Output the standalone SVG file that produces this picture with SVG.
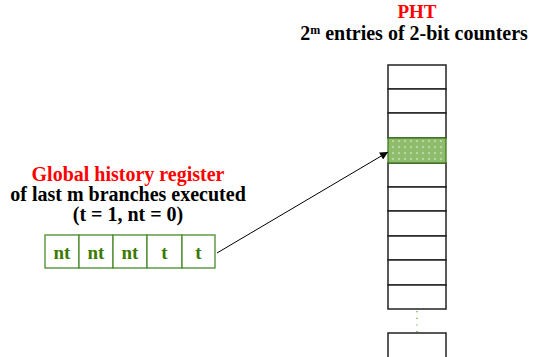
<svg xmlns="http://www.w3.org/2000/svg" width="535" height="357" viewBox="0 0 535 357">
<style>
text{font-family:"Liberation Serif","Times New Roman",serif;font-weight:bold;}
.red{fill:#ff0000;}
.blk{fill:#000;}
.reg{fill:#ffffff;stroke:#4a8a2a;stroke-width:1.3;}
.rt{fill:#3a7a00;font-size:19px;text-anchor:middle;}
.cell{fill:#ffffff;stroke:#222;stroke-width:1.5;}
.hit{fill:url(#dots);stroke:#3f7a1f;stroke-width:1.3;}
.conn{stroke:#000;stroke-width:1;fill:none;}
</style>
<defs>
<pattern id="dots" width="6" height="6" patternUnits="userSpaceOnUse">
<rect width="6" height="6" fill="#8fbc6c"/>
<circle cx="3" cy="3" r="1.2" fill="#b8d6a0"/>
</pattern>
<marker id="ah" viewBox="0 0 10 10" refX="10" refY="5" markerWidth="10" markerHeight="8" markerUnits="userSpaceOnUse" orient="auto">
<path d="M0,0 L10,5 L0,10 z" fill="#000"/>
</marker>
</defs>
<g id="pht-title">
<text class="red" x="417" y="18" font-size="19" text-anchor="middle">PHT</text>
<text class="blk" x="414" y="40" font-size="20" text-anchor="middle">2<tspan font-size="12" dy="-6">m</tspan><tspan dy="6"> entries of 2-bit counters</tspan></text>
</g>
<g id="ghr-label">
<text class="red" x="128" y="181" font-size="20" text-anchor="middle">Global history register</text>
<text class="blk" x="128" y="201" font-size="20" text-anchor="middle">of last m branches executed</text>
<text class="blk" x="128" y="221" font-size="20" text-anchor="middle">(t = 1, nt = 0)</text>
</g>
<g id="ghr">
<rect class="reg" x="45" y="235" width="34" height="33"/>
<rect class="reg" x="79" y="235" width="34" height="33"/>
<rect class="reg" x="113" y="235" width="34" height="33"/>
<rect class="reg" x="147" y="235" width="35" height="33"/>
<rect class="reg" x="182" y="235" width="33" height="33"/>
<text class="rt" x="62" y="259">nt</text>
<text class="rt" x="96" y="259">nt</text>
<text class="rt" x="130" y="259">nt</text>
<text class="rt" x="164.5" y="259">t</text>
<text class="rt" x="198.5" y="259">t</text>
</g>
<g id="pht">
<rect class="cell" x="388" y="65" width="58" height="24"/>
<rect class="cell" x="388" y="89" width="58" height="24"/>
<rect class="cell" x="388" y="113" width="58" height="25"/>
<rect class="cell" x="388" y="163" width="58" height="24"/>
<rect class="cell" x="388" y="187" width="58" height="24"/>
<rect class="cell" x="388" y="211" width="58" height="25"/>
<rect class="cell" x="388" y="236" width="58" height="24"/>
<rect class="cell" x="388" y="260" width="58" height="25"/>
<rect class="cell" x="388" y="285" width="58" height="24"/>
<rect class="hit" x="388" y="138" width="58" height="25"/>
<line x1="417" y1="311" x2="417" y2="333" stroke="#5aa02a" stroke-width="1.2" stroke-dasharray="1.2,5.5"/>
<rect class="cell" x="388" y="333" width="58" height="30"/>
</g>
<g id="connectors">
<line class="conn" x1="217" y1="253" x2="388" y2="152" marker-end="url(#ah)"/>
</g>
</svg>
